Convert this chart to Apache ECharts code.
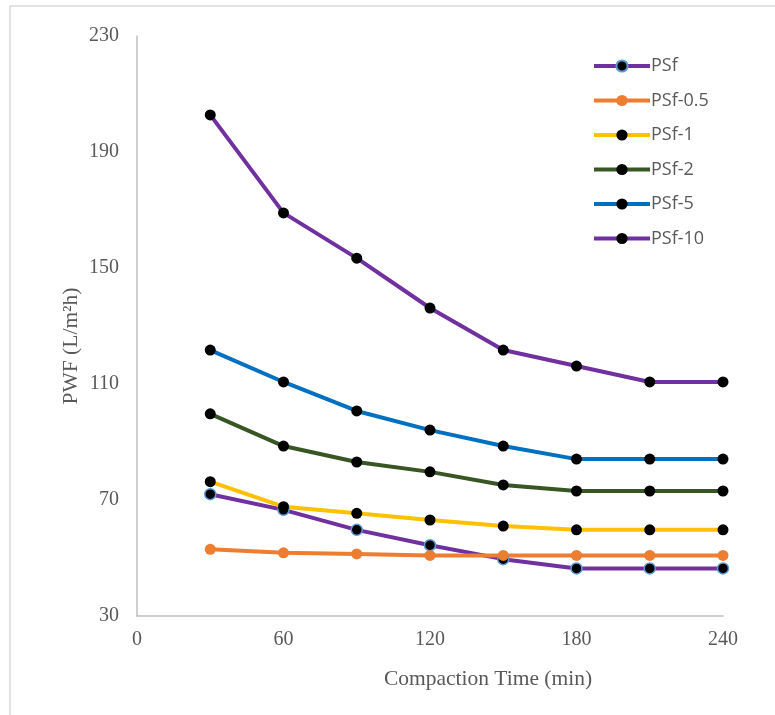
<!DOCTYPE html>
<html>
<head>
<meta charset="utf-8">
<script src="https://cdn.jsdelivr.net/npm/echarts@6/dist/echarts.min.js"></script>
<style>html,body{margin:0;padding:0;background:#fff}#c{width:775px;height:715px}</style>
</head>
<body>
<div id="c"></div>
<script>
var times = [30, 60, 90, 120, 150, 180, 210, 240];
var psf    = [72, 66.6, 59.7, 54.4, 49.6, 46.4, 46.4, 46.4];
var psf05  = [53, 51.8, 51.4, 50.9, 50.9, 50.9, 50.9, 50.9];
var psf1   = [76.3, 67.7, 65.4, 63.1, 61.0, 59.7, 59.7, 59.7];
var psf2   = [99.7, 88.6, 83.1, 79.7, 75.2, 73.1, 73.1, 73.1];
var psf5   = [121.7, 110.7, 100.7, 94.1, 88.6, 84.1, 84.1, 84.1];
var psf10  = [202.8, 169, 153.4, 136.2, 121.7, 116.2, 110.7, 110.7];
var xTicks = [0, 60, 120, 180, 240];
var yTicks = [30, 70, 110, 150, 190, 230];

function pairs(v){ return times.map(function(t,i){ return [t, v[i]]; }); }
function mk(name, data, color, mFill, mBorder){
  return {
    name: name, type: 'line', data: pairs(data),
    symbol: 'circle', symbolSize: 11,
    lineStyle: {color: color, width: 4},
    itemStyle: {color: mFill, borderColor: mBorder, borderWidth: mBorder ? 1.5 : 0},
    color: color,
    emphasis: {disabled: true}
  };
}
var chart = echarts.init(document.getElementById('c'));
var serif = 'Liberation Serif';
chart.setOption({
  animation: false,
  backgroundColor: '#fff',
  grid: {left: 137, right: 52, top: 36, bottom: 99, containLabel: false},
  xAxis: {
    type: 'value', min: 0, max: 240, interval: 60,
    axisLine: {show: true, lineStyle: {color: '#bfbfbf', width: 1.5}},
    axisTick: {show: false}, splitLine: {show: false},
    axisLabel: {color: '#595959', fontFamily: serif, fontSize: 20, margin: 14}
  },
  yAxis: {
    type: 'value', min: 30, max: 230, interval: 40,
    axisLine: {show: true, lineStyle: {color: '#bfbfbf', width: 1.5}},
    axisTick: {show: false}, splitLine: {show: false},
    axisLabel: {color: '#595959', fontFamily: serif, fontSize: 20, margin: 18}
  },
  legend: {
    orient: 'vertical', left: 592, top: 57, padding: 0,
    itemWidth: 56, itemHeight: 14, itemGap: 16.5,
    lineStyle: {width: 4},
    textStyle: {color: '#595959', fontFamily: 'Open Sans', fontSize: 18, lineHeight: 14, padding: [0,0,0,-4]},
    data: ['PSf', 'PSf-0.5', 'PSf-1', 'PSf-2', 'PSf-5', 'PSf-10']
  },
  graphic: [
    {type: 'rect', shape: {x: 10, y: 6, width: 900, height: 900}, style: {fill: 'none', stroke: '#d9d9d9', lineWidth: 1.5}, silent: true},
    {type: 'text', x: 488, y: 679, style: {text: 'Compaction Time (min)', font: '21.5px "Liberation Serif"', fill: '#595959', textAlign: 'center', textVerticalAlign: 'middle'}},
    {type: 'text', x: 71, y: 346, rotation: Math.PI/2, style: {text: 'PWF (L/m\u00B2h)', font: '21.5px "Liberation Serif"', fill: '#595959', textAlign: 'center', textVerticalAlign: 'middle'}}
  ],
  series: [
    mk('PSf', psf, '#7030A0', '#000', '#5B9BD5'),
    mk('PSf-0.5', psf05, '#ED7D31', '#ED7D31', null),
    mk('PSf-1', psf1, '#FFC000', '#000', null),
    mk('PSf-2', psf2, '#375623', '#000', null),
    mk('PSf-5', psf5, '#0070C0', '#000', null),
    mk('PSf-10', psf10, '#7030A0', '#000', null)
  ]
});
</script>
</body>
</html>
